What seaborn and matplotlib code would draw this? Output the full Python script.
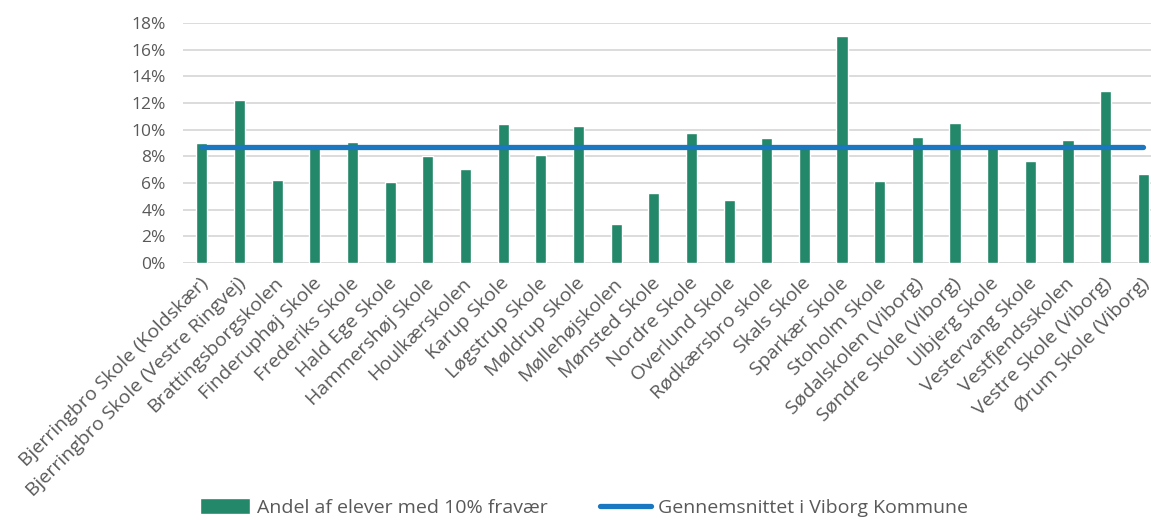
import matplotlib
matplotlib.use("Agg")
import matplotlib.pyplot as plt
import matplotlib.transforms as mtransforms
import seaborn as sns
import pandas as pd
from matplotlib.ticker import PercentFormatter

schools = [
    "Bjerringbro Skole (Koldskær)", "Bjerringbro Skole (Vestre Ringvej)",
    "Brattingsborgskolen", "Finderuphøj Skole", "Frederiks Skole",
    "Hald Ege Skole", "Hammershøj Skole", "Houlkærskolen", "Karup Skole",
    "Løgstrup Skole", "Møldrup Skole", "Møllehøjskolen", "Mønsted Skole",
    "Nordre Skole", "Overlund Skole", "Rødkærsbro skole", "Skals Skole",
    "Sparkær Skole", "Stoholm Skole", "Sødalskolen (Viborg)",
    "Søndre Skole (Viborg)", "Ulbjerg Skole", "Vestervang Skole",
    "Vestfjendsskolen", "Vestre Skole (Viborg)", "Ørum Skole (Viborg)",
]
andel = [9.0, 12.25, 6.25, 8.7, 9.05, 6.1, 8.05, 7.05, 10.4, 8.1, 10.25, 2.92,
         5.25, 9.75, 4.75, 9.38, 8.65, 17.0, 6.17, 9.45, 10.47, 8.6, 7.67, 9.2,
         12.87, 6.7]
gennemsnit = [8.7] * len(schools)

bar_label = "Andel af elever med 10% fravær"
line_label = "Gennemsnittet i Viborg Kommune"

df = pd.DataFrame({"skole": schools, "andel": andel, "gns": gennemsnit})
df["pos"] = range(len(df))

sns.set_theme(style="white")
plt.rcParams["font.family"] = ["Open Sans", "DejaVu Sans"]
text_color = "#595959"

fig = plt.figure(figsize=(11.51, 5.2), dpi=100)
ax = fig.add_axes([0.159, 0.494, 0.841, 0.462])

sns.barplot(data=df, x="skole", y="andel", color="#238769", width=0.30,
            saturation=1, ax=ax, label=bar_label, zorder=2)
sns.lineplot(data=df, x="pos", y="gns", color="#1a78c2", linewidth=3.8,
             ax=ax, label=line_label, zorder=3)

ax.set_ylim(0, 18)
ax.set_xlim(-0.5, 25.2)
ax.set_yticks(range(0, 19, 2))
ax.yaxis.set_major_formatter(PercentFormatter(decimals=0))
ax.yaxis.grid(True, color="#d9d9d9", linewidth=1.3, zorder=0)
ax.set_axisbelow(True)
for s in ax.spines.values():
    s.set_visible(False)
ax.set_xlabel("")
ax.set_ylabel("")
ax.tick_params(axis="y", labelsize=12.5, colors=text_color, length=0, pad=12.5)
ax.set_xticks(range(len(schools)))
ax.set_xticklabels(schools, rotation=45, ha="right", rotation_mode="anchor",
                   fontsize=14, color=text_color)
ax.tick_params(axis="x", length=0, pad=8)
offset = mtransforms.ScaledTranslation(-3 / 100, 0, fig.dpi_scale_trans)
for lbl in ax.get_xticklabels():
    lbl.set_transform(lbl.get_transform() + offset)

ax.get_legend().remove()
handles, labels = ax.get_legend_handles_labels()
order = [labels.index(bar_label), labels.index(line_label)]
leg = fig.legend([handles[i] for i in order], [labels[i] for i in order],
                 loc="center", ncol=2,
                 bbox_to_anchor=(0.507, 0.024), frameon=False, fontsize=14,
                 handlelength=2.6, handleheight=0.9, columnspacing=2.7,
                 handletextpad=0.35, borderpad=0, borderaxespad=0)
for t in leg.get_texts():
    t.set_color(text_color)

fig.savefig("out.png", dpi=100)
